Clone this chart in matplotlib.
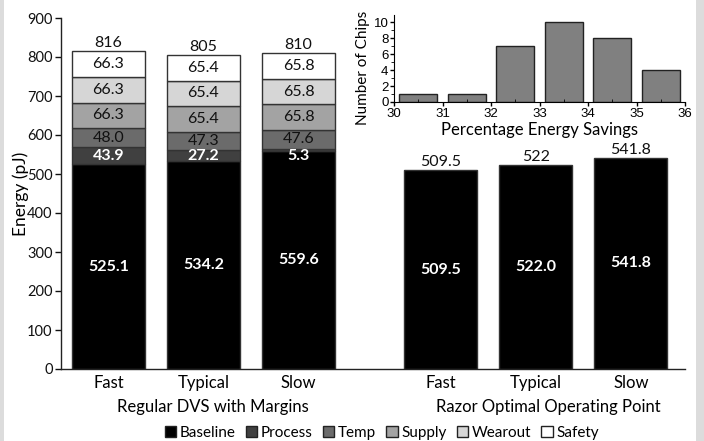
import matplotlib
matplotlib.use("Agg")
import matplotlib.pyplot as plt
from matplotlib.patches import Patch, Rectangle
from matplotlib.ticker import MultipleLocator

plt.rcParams['font.family'] = ['Lato', 'DejaVu Sans']

# ---- data ----
conditions = ["Fast", "Typical", "Slow"]
components = ["Baseline", "Process", "Temp", "Supply", "Wearout", "Safety"]
baseline = [525.1, 534.2, 559.6]
process = [43.9, 27.2, 5.3]
temp = [48.0, 47.3, 47.6]
supply = [66.3, 65.4, 65.8]
wearout = [66.3, 65.4, 65.8]
safety = [66.3, 65.4, 65.8]
regular_totals = ["816", "805", "810"]
razor = [509.5, 522.0, 541.8]
razor_top_labels = ["509.5", "522", "541.8"]
group_labels = ["Regular DVS with Margins", "Razor Optimal Operating Point"]

hist_bins = [30, 31, 32, 33, 34, 35]
hist_counts = [1, 1, 7, 10, 8, 4]

colors = ["#000000", "#404040", "#6b6b6b", "#a3a3a3", "#d6d6d6", "#ffffff"]
edge = "#333333"

fig = plt.figure(figsize=(7.04, 4.41), dpi=100)
# side frame strips
fig.patches.append(Rectangle((0, 0), 4 / 704, 1, transform=fig.transFigure,
                             facecolor="#dcdcdc", edgecolor="none", zorder=0))
fig.patches.append(Rectangle((696 / 704, 0), 8 / 704, 1, transform=fig.transFigure,
                             facecolor="#dcdcdc", edgecolor="none", zorder=0))

ax = fig.add_axes([61 / 704, 72 / 441, 624 / 704, 351 / 441])
x_reg = [0, 1, 2]
x_raz = [3.5, 4.5, 5.5]
w = 0.77

series = [baseline, process, temp, supply, wearout, safety]
bottoms = [0.0, 0.0, 0.0]
for comp, vals, c in zip(components, series, colors):
    ax.bar(x_reg, vals, w, bottom=bottoms, color=c, edgecolor=edge, linewidth=1.0, zorder=2)
    for i, v in enumerate(vals):
        if comp == "Baseline":
            ax.text(x_reg[i], bottoms[i] + v / 2, f"{v:.1f}", ha="center", va="center",
                    color="white", fontweight="bold", fontsize=11.5, zorder=3)
        elif comp == "Process":
            ax.text(x_reg[i], 546, f"{v:.1f}", ha="center", va="center",
                    color="white", fontweight="bold", fontsize=11.5, zorder=3)
        else:
            ax.text(x_reg[i], bottoms[i] + v / 2, f"{v:.1f}", ha="center", va="center",
                    color="#111111", fontsize=11.5, zorder=3)
    bottoms = [b + v for b, v in zip(bottoms, vals)]

for i, t in enumerate(regular_totals):
    ax.text(x_reg[i], bottoms[i] + 3, t, ha="center", va="bottom", fontsize=11.5, color="#111111")

ax.bar(x_raz, razor, w, color="#000000", edgecolor=edge, linewidth=1.0, zorder=2)
for i, v in enumerate(razor):
    ax.text(x_raz[i], v / 2, f"{v:.1f}", ha="center", va="center",
            color="white", fontweight="bold", fontsize=11.5, zorder=3)
    ax.text(x_raz[i], v + 3, razor_top_labels[i], ha="center", va="bottom",
            fontsize=11.5, color="#111111")

ax.set_xlim(-0.5, 6.07)
ax.set_ylim(0, 900)
ax.set_yticks(range(0, 901, 100))
ax.set_xticks(x_reg + x_raz)
ax.set_xticklabels(conditions + conditions, fontsize=12)
ax.tick_params(axis="x", length=0, pad=4)
ax.tick_params(axis="y", labelsize=10.5, length=4, width=1, pad=2, colors="#111111")
for s in ["top", "right"]:
    ax.spines[s].set_visible(False)
for s in ["left", "bottom"]:
    ax.spines[s].set_color("#222222")
    ax.spines[s].set_linewidth(1.0)
ax.set_ylabel("Energy (pJ)", fontsize=12.5)
ax.yaxis.set_label_coords(-0.051, 0.5)

ax.text(1.1, -0.107, group_labels[0], transform=ax.get_xaxis_transform(),
        ha="center", va="center", fontsize=12)
ax.text(4.63, -0.107, group_labels[1], transform=ax.get_xaxis_transform(),
        ha="center", va="center", fontsize=12)

handles = [Patch(facecolor=c, edgecolor="#222222", linewidth=1.0, label=n)
           for c, n in zip(colors, components)]
fig.legend(handles=handles, loc="center", bbox_to_anchor=(382 / 704, 1 - 433 / 441),
           ncol=6, frameon=False, fontsize=11, handlelength=0.75, handleheight=0.75,
           handletextpad=0.25, columnspacing=0.65, borderpad=0)

# ---- inset histogram ----
ins = fig.add_axes([394 / 704, 1 - 102 / 441, 291 / 704, 87 / 441])
ins.bar([b + 0.5 for b in hist_bins], hist_counts, 0.78, color="#808080",
        edgecolor="#222222", linewidth=1.0)
ins.set_xlim(30, 36)
ins.set_ylim(0, 10.9)
ins.set_xticks(range(30, 37))
ins.set_yticks(range(0, 11, 2))
ins.xaxis.set_minor_locator(MultipleLocator(0.5))
ins.yaxis.set_minor_locator(MultipleLocator(1))
ins.tick_params(axis="both", which="major", labelsize=9.5, length=3, width=1, pad=1)
ins.tick_params(axis="x", which="minor", length=2, direction="in")
ins.tick_params(axis="y", which="minor", length=2)
for lbl in ins.get_xticklabels() + ins.get_yticklabels():
    lbl.set_fontfamily(["Liberation Sans", "DejaVu Sans"])
for s in ["top", "right"]:
    ins.spines[s].set_visible(False)
ins.set_xlabel("Percentage Energy Savings", fontsize=12, labelpad=2)
ins.set_ylabel("Number of Chips", fontsize=11)
ins.yaxis.set_label_coords(-0.082, 0.39)

fig.savefig("out.png", dpi=100)
